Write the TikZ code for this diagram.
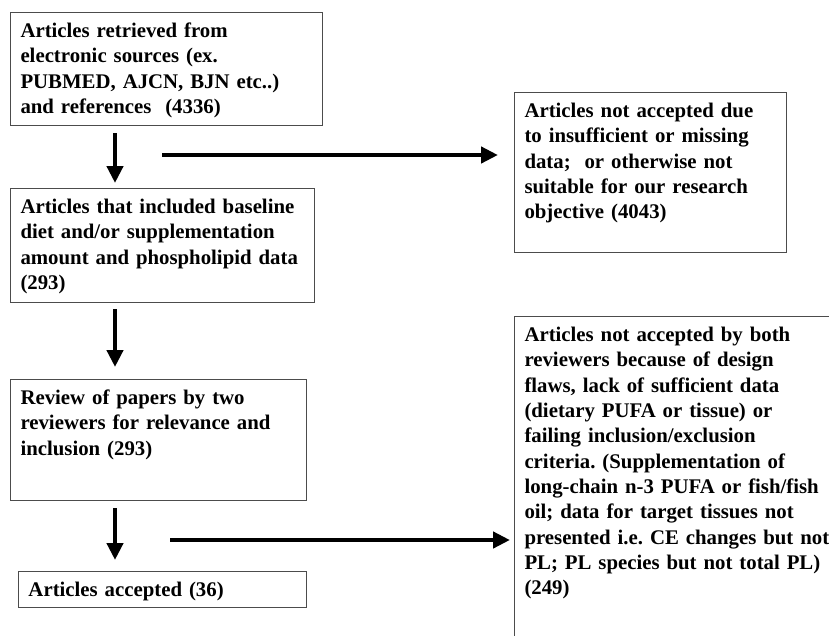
\documentclass[tikz,border=0pt]{standalone}
\usepackage{fontspec}
\setmainfont{Liberation Serif}
\usepackage{tikz}
\usetikzlibrary{arrows.meta}
\usetikzlibrary{calc}

\tikzset{
  box/.style={draw=black!70, line width=0.75pt, anchor=north west, align=left,
    inner xsep=7.5pt, inner ysep=6.75pt, text height=12pt,
    font=\bfseries\fontsize{15.6pt}{19pt}\selectfont\frenchspacing},
  flow/.style={->, line width=3.2pt}
}

\begin{document}
\begin{tikzpicture}[x=0.75pt,y=-0.75pt,>={Triangle[length=12.75pt,width=12pt]}]
    \clip (0,0) rectangle (829,636);
    \node (retrieved) [box, text width=219pt, text depth=59.25pt] at (10,12)
      {Articles retrieved from\\ electronic sources (ex.\\ PUBMED, AJCN, BJN etc..)\\ and references\ \ (4336)};
    \node (baseline) [box, text width=213pt, text depth=60pt] at (10,188)
      {Articles that included baseline\\ diet and/or supplementation\\ amount and phospholipid data\\ (293)};
    \node (review) [box, text width=207pt, text depth=65.25pt] at (10,379)
      {Review of papers by two\\ reviewers for relevance and\\ inclusion (293)};
    \node (accepted) [box, text width=201pt, text depth=1.5pt] at (18,571)
      {Articles accepted (36)};
    \node (notdata) [box, text width=189pt, text depth=94.5pt] at (514,92)
      {Articles not accepted due\\ to insufficient or missing\\ data;\ \ or otherwise not\\ suitable for our research\\ objective (4043)};
    \node (notboth) [box, text width=250pt, text depth=300pt] at (514,316)
      {Articles not accepted by both\\ reviewers because of design\\ flaws, lack of sufficient data\\ (dietary PUFA or tissue) or\\ failing inclusion/exclusion\\ criteria. (Supplementation of\\ long-chain n-3 PUFA or fish/fish\\ oil; data for target tissues not\\ presented i.e. CE changes but not\\ PL; PL species but not total PL)\\ (249)};
    % downward arrows
    \draw [flow, shorten <=5.25pt, shorten >=3.75pt] ([xshift=78.75pt]retrieved.south west) -- ([xshift=78.75pt]baseline.north west);
    \draw [flow, shorten <=4.5pt, shorten >=9pt] ([xshift=78.75pt]baseline.south west) -- ([xshift=78.75pt]review.north west);
    \draw [flow, shorten <=5.25pt, shorten >=8.25pt] ([xshift=78.75pt]review.south west) -- ([xshift=72.75pt]accepted.north west);
    % exclusion arrows
    \coordinate (out1) at (162,155);
    \coordinate (out2) at (170,540);
    \draw [flow, shorten >=12pt] (out1) -- (out1 -| notdata.west);
    \draw [flow, shorten >=3pt] (out2) -- (out2 -| notboth.west);
\end{tikzpicture}
\end{document}
